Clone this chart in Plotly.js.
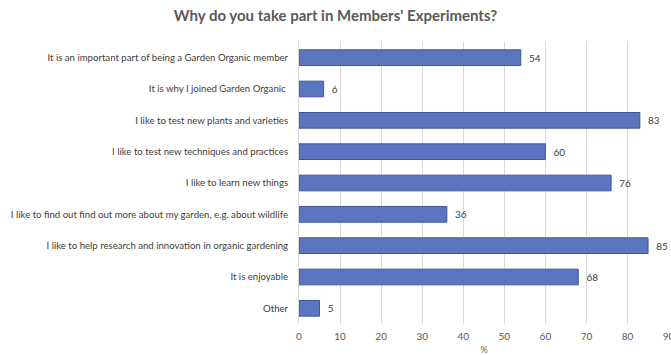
<!DOCTYPE html>
<html><head><meta charset="utf-8">
<script src="https://cdn.plot.ly/plotly-3.0.1.min.js"></script>
<style>html,body{margin:0;padding:0;background:#fff;}#chart{width:671px;height:355px;}</style>
</head><body><div id="chart"></div>
<script>
const categories = [
  "It is an important part of being a Garden Organic member",
  "It is why I joined Garden Organic ",
  "I like to test new plants and varieties",
  "I like to test new techniques and practices",
  "I like to learn new things",
  "I like to find out find out more about my garden, e.g. about wildlife",
  "I like to help research and innovation in organic gardening",
  "It is enjoyable",
  "Other"
];
const values = [54, 6, 83, 60, 76, 36, 85, 68, 5];
const xTicks = [0,10,20,30,40,50,60,70,80,90];

const trace = {
  type: 'bar', orientation: 'h',
  y: categories, x: values,
  text: values.map(v => '  ' + v), textposition: 'outside', cliponaxis: false,
  textfont: {family: 'Lato, Carlito, sans-serif', size: 10, color: '#404040'},
  marker: {color: '#5a76c1', line: {color: '#3e5799', width: 1}},
  hoverinfo: 'none'
};
const layout = {
  width: 671, height: 355,
  margin: {l: 299, r: 2, t: 42, b: 31},
  paper_bgcolor: '#fff', plot_bgcolor: '#fff',
  showlegend: false,
  bargap: 0.5,
  title: {text: "<b>Why do you take part in Members' Experiments?</b>", x: 0.5, xanchor: 'center', y: 0.955, yanchor: 'middle',
          font: {family: 'Lato, Carlito, sans-serif', size: 15, color: '#595959'}},
  font: {family: 'Lato, Carlito, sans-serif', size: 10, color: '#595959'},
  xaxis: {range: [0, 90.1], tickvals: xTicks, ticktext: xTicks.map(String), showgrid: true, gridcolor: '#d9d9d9', gridwidth: 1,
          zeroline: false, showline: false, ticks: '', ticklabelstandoff: 5, ticklabeloverflow: 'allow',
          tickfont: {family: 'Lato, Carlito, sans-serif', size: 10, color: '#595959'},
          title: {text: '%', standoff: 6, font: {family: 'Lato, Carlito, sans-serif', size: 9, color: '#595959'}}},
  yaxis: {autorange: 'reversed', showgrid: false, zeroline: false, showline: true, linecolor: '#d9d9d9', ticks: '',
          ticklabelstandoff: 8,
          tickfont: {family: 'Lato, Carlito, sans-serif', size: 9.6, color: '#404040'}}
};
Plotly.newPlot('chart', [trace], layout, {staticPlot: true, displayModeBar: false});
</script></body></html>
